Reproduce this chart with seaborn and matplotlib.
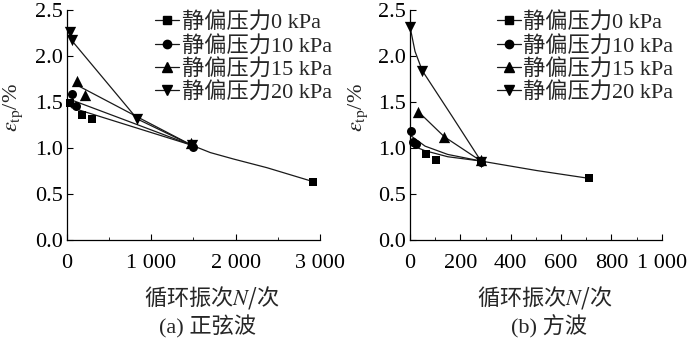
import numpy as np
import pandas as pd
import matplotlib
matplotlib.use('Agg')
import matplotlib.pyplot as plt
from matplotlib.lines import Line2D
from matplotlib.ticker import FuncFormatter, MultipleLocator
import seaborn as sns

# series labels and marker per series
labels = ['静偏压力0 kPa', '静偏压力10 kPa', '静偏压力15 kPa', '静偏压力20 kPa']
markers = ['s', 'o', '^', 'v']
msizes = [40, 42, 66, 66]

# (a) sine wave - measured points
sin_N = [[30, 174, 293, 1480, 2920],
         [55, 107, 1490],
         [123, 213, 1465],
         [36, 55, 834, 1480]]
sin_e = [[1.49, 1.36, 1.31, 1.03, 0.635],
         [1.587, 1.457, 1.015],
         [1.728, 1.576, 1.05],
         [2.264, 2.174, 1.315, 1.03]]
# (a) fitted curves
sin_fit_N = [[50, 1480, 1700, 1975, 2370, 2920],
             [60, 700, 1480],
             [115, 830, 1480],
             [55, 834, 1480]]
sin_fit_e = [[1.44, 1.03, 0.95, 0.88, 0.786, 0.634],
             [1.52, 1.30, 1.03],
             [1.685, 1.34, 1.03],
             [2.17, 1.315, 1.03]]

# (b) square wave - measured points
sq_N = [[62, 102, 282, 711],
        [3, 12, 22, 282],
        [33, 136, 282],
        [0, 49, 282]]
sq_e = [[0.93, 0.87, 0.86, 0.67],
        [1.18, 1.07, 1.04, 0.85],
        [1.395, 1.12, 0.865],
        [2.32, 1.84, 0.85]]
sq_fit_N = [[5, 60, 150, 282, 503, 711],
            [0, 60, 150, 282],
            [33, 136, 282],
            [0, 20, 49, 166, 282]]
sq_fit_e = [[1.03, 0.97, 0.905, 0.858, 0.755, 0.67],
            [1.14, 1.02, 0.93, 0.858],
            [1.395, 1.123, 0.858],
            [2.32, 2.05, 1.84, 1.35, 0.858]]


def to_df(Ns, es):
    rows = []
    for lab, n, e in zip(labels, Ns, es):
        for a, b in zip(n, e):
            rows.append({'series': lab, 'N': a, 'e': b})
    return pd.DataFrame(rows)


sns.set_style('white')
plt.rcParams['font.family'] = ['Liberation Serif', 'Noto Sans CJK SC']
plt.rcParams['mathtext.fontset'] = 'stix'

fig = plt.figure(figsize=(7, 3.46), dpi=100)
ax1 = fig.add_axes([0.0957, 0.3064, 0.3614, 0.6647])
ax2 = fig.add_axes([0.5857, 0.3064, 0.3596, 0.6647])

fs = 16
thousands = FuncFormatter(lambda v, p: '{:,.0f}'.format(v).replace(',', ' '))

for ax, pN, pe, fN, fe, xmax, minor, xlab_x, ylab_x, leg_x, cap, cap_x in [
        (ax1, sin_N, sin_e, sin_fit_N, sin_fit_e, 3000, 500, 0.573, -0.213, 1.055, '(a) 正弦波', 208),
        (ax2, sq_N, sq_e, sq_fit_N, sq_fit_e, 1000, 100, 0.536, -0.207, 1.055, '(b) 方波', 549)]:
    fit = to_df(fN, fe)
    pts = to_df(pN, pe)
    for lab in labels:
        sns.lineplot(data=fit[fit.series == lab], x='N', y='e', ax=ax,
                     color='#1a1a1a', lw=0.9, sort=False, estimator=None, legend=False)
    for lab, m, s in zip(labels, markers, msizes):
        sns.scatterplot(data=pts[pts.series == lab], x='N', y='e', ax=ax,
                        marker=m, s=s, color='black', edgecolor='black',
                        linewidth=0, legend=False, clip_on=False, zorder=5)
    ax.set_xlim(0, xmax)
    ax.set_ylim(0, 2.5)
    ax.set_yticks([0, 0.5, 1.0, 1.5, 2.0, 2.5])
    ax.yaxis.set_major_formatter(FuncFormatter(lambda v, p: '%.1f' % v))
    ax.xaxis.set_major_locator(MultipleLocator(xmax / 5 if xmax == 1000 else 1000))
    ax.xaxis.set_minor_locator(MultipleLocator(minor))
    ax.xaxis.set_major_formatter(thousands)
    sns.despine(ax=ax)
    for sp in ['left', 'bottom']:
        ax.spines[sp].set_linewidth(0.9)
        ax.spines[sp].set_color('black')
    ax.tick_params(axis='both', which='major', direction='in', length=4, width=0.8,
                   labelsize=fs, pad=3, colors='black', bottom=True, left=True)
    ax.tick_params(axis='x', which='major', pad=10)
    ax.tick_params(axis='x', which='minor', direction='in', length=2, width=0.7, bottom=True)
    ax.set_xlabel('循环振次$N$/次', fontsize=fs, family=['Noto Sans CJK SC'], va='center')
    ax.xaxis.set_label_coords(xlab_x, -0.248)
    ax.set_ylabel(r'$\varepsilon_{\mathrm{tp}}$/%', fontsize=fs, va='center')
    ax.yaxis.set_label_coords(ylab_x, 0.574)
    handles = [Line2D([], [], color='#1a1a1a', lw=0.9, marker=m, markersize=6 if m in 's o' else 7.5,
                      markerfacecolor='black', markeredgecolor='black') for m in markers]
    ax.legend(handles, labels, loc='upper right', bbox_to_anchor=(leg_x, 1.0), frameon=False,
              fontsize=fs, handlelength=1.1, handletextpad=0.1, labelspacing=0.1,
              borderaxespad=0.0, borderpad=0.1)
    fig.text(cap_x / 700, 1 - 327 / 346, cap, ha='center', va='center', fontsize=fs)

fig.savefig('out.png', dpi=100)
